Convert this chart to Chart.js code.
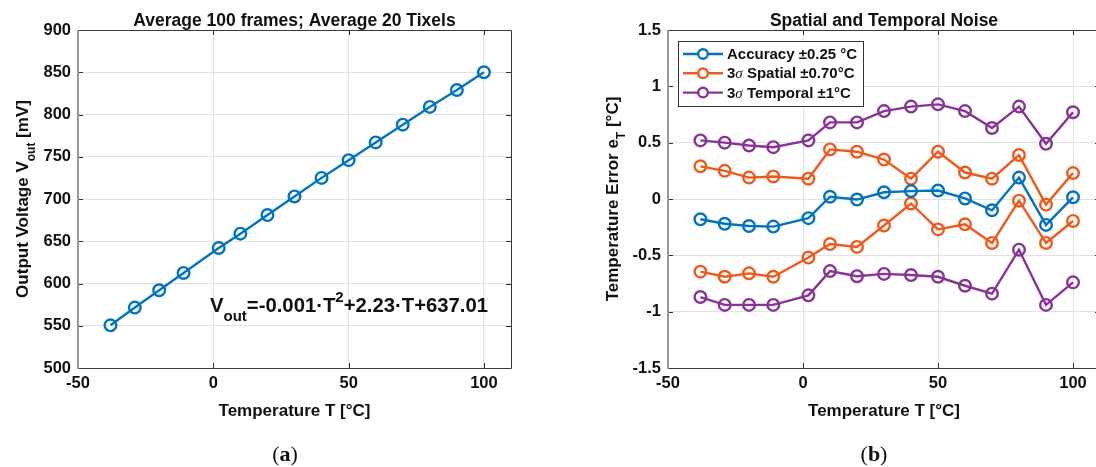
<!DOCTYPE html>
<html>
<head>
<meta charset="utf-8">
<script src="https://cdn.jsdelivr.net/npm/chart.js@4.4.1/dist/chart.umd.min.js"></script>
<style>
  html, body { margin: 0; padding: 0; background: #fff; overflow: hidden; width: 1096px; height: 467px; }
  .panel { position: absolute; top: 0; width: 560px; height: 467px; }
  #panelA { left: 0; }
  #panelB { left: 590px; }
</style>
</head>
<body>
<div class="panel" id="panelA"><canvas id="chartA" width="560" height="467"></canvas></div>
<div class="panel" id="panelB"><canvas id="chartB" width="560" height="467"></canvas></div>
<script>
// Datos
const temperaturas = [-38, -29, -20, -11, 2, 10, 20, 30, 40, 50, 60, 70, 80, 90, 100];
const voltaje = [550.5, 571.5, 592, 612.5, 642, 659, 681, 703, 725, 746, 767, 788, 809, 829, 850];

const precision = [-0.18, -0.22, -0.24, -0.245, -0.17, 0.02, -0.005, 0.06, 0.07, 0.075, 0.005, -0.1, 0.19, -0.23, 0.015];
const espacialSup = [0.29, 0.25, 0.19, 0.2, 0.18, 0.44, 0.42, 0.35, 0.18, 0.42, 0.235, 0.18, 0.39, -0.05, 0.23];
const espacialInf = [-0.645, -0.69, -0.66, -0.69, -0.52, -0.4, -0.425, -0.235, -0.04, -0.27, -0.225, -0.39, -0.015, -0.39, -0.195];
const temporalSup = [0.52, 0.5, 0.475, 0.46, 0.52, 0.68, 0.68, 0.78, 0.82, 0.84, 0.78, 0.63, 0.82, 0.49, 0.77];
const temporalInf = [-0.87, -0.94, -0.94, -0.94, -0.855, -0.64, -0.685, -0.665, -0.675, -0.69, -0.77, -0.84, -0.45, -0.94, -0.74];

// Ticks
const ticksX = [-50, 0, 50, 100];
const ticksVoltaje = [500, 550, 600, 650, 700, 750, 800, 850, 900];
const ticksError = [-1.5, -1, -0.5, 0, 0.5, 1, 1.5];

const AZUL = "#0074C0";
const NARANJA = "#EE5A1C";
const MORADO = "#883496";
const FUENTE = "'Liberation Sans', Arial, sans-serif";
const TINTA = "#111";

// Texto con subindices / superindices
function fuenteDe(p, tam) {
  if (p[1] === "sub" || p[1] === "sup") return `bold ${Math.round(tam * 0.72)}px ${FUENTE}`;
  if (p[1] === "sigma") return `italic ${tam}px 'Liberation Serif', serif`;
  return `bold ${tam}px ${FUENTE}`;
}

function textoRico(ctx, partes, x, y, tam, alinear) {
  let ancho = 0;
  partes.forEach((p) => {
    ctx.font = fuenteDe(p, tam);
    ancho += ctx.measureText(p[0]).width;
  });
  let cx = alinear === "center" ? x - ancho / 2 : x;
  partes.forEach((p) => {
    ctx.font = fuenteDe(p, tam);
    const dy = p[1] === "sub" ? tam * 0.42 : p[1] === "sup" ? -tam * 0.48 : 0;
    ctx.fillText(p[0], cx, y + dy);
    cx += ctx.measureText(p[0]).width;
  });
}

// Marco estilo MATLAB, ticks hacia dentro y textos
const marcoPlugin = {
  id: "marco",
  afterDraw(chart, args, opts) {
    const { ctx, chartArea: a } = chart;
    const x = chart.scales.x;
    const y = chart.scales.y;
    ctx.save();
    ctx.strokeStyle = "#333";
    ctx.lineWidth = 1;
    ctx.beginPath();
    x.ticks.forEach((t) => {
      const px = Math.round(x.getPixelForValue(t.value)) + 0.5;
      ctx.moveTo(px, a.bottom); ctx.lineTo(px, a.bottom - 5);
      ctx.moveTo(px, a.top); ctx.lineTo(px, a.top + 5);
    });
    y.ticks.forEach((t) => {
      const py = Math.round(y.getPixelForValue(t.value)) + 0.5;
      ctx.moveTo(a.left, py); ctx.lineTo(a.left + 5, py);
      ctx.moveTo(a.right, py); ctx.lineTo(a.right - 5, py);
    });
    ctx.stroke();

    ctx.strokeStyle = "#3a3a3a";
    ctx.beginPath();
    ctx.moveTo(a.left, a.top + 0.5); ctx.lineTo(a.right + 0.5, a.top + 0.5);
    ctx.lineTo(a.right + 0.5, a.bottom + 0.5); ctx.lineTo(a.left, a.bottom + 0.5);
    ctx.stroke();
    ctx.strokeStyle = "#9a9a9a";
    ctx.lineWidth = 2;
    ctx.beginPath();
    ctx.moveTo(a.left, a.top); ctx.lineTo(a.left, a.bottom + 1);
    ctx.stroke();

    const centro = (a.left + a.right) / 2;
    ctx.fillStyle = TINTA;
    ctx.textBaseline = "alphabetic";
    textoRico(ctx, [[opts.titulo, ""]], centro, 25.5, 17.5, "center");
    textoRico(ctx, [["Temperature T [°C]", ""]], centro, 416, 17, "center");

    ctx.save();
    ctx.translate(a.left - 50, (a.top + a.bottom) / 2);
    ctx.rotate(-Math.PI / 2);
    textoRico(ctx, opts.ejeY, 0, 0, 17, "center");
    ctx.restore();

    if (opts.ecuacion) {
      textoRico(ctx, opts.ecuacion, 210, 312, 20.3, "left");
    }

    const serif = "'Liberation Serif', serif";
    ctx.font = `22px ${serif}`;
    ctx.textAlign = "left";
    const p1 = ctx.measureText("(").width;
    ctx.font = `bold 22px ${serif}`;
    const p2 = ctx.measureText(opts.letra).width;
    const lx = opts.letraX - (2 * p1 + p2) / 2;
    ctx.font = `22px ${serif}`;
    ctx.fillText("(", lx, 461);
    ctx.font = `bold 22px ${serif}`;
    ctx.fillText(opts.letra, lx + p1, 461);
    ctx.font = `22px ${serif}`;
    ctx.fillText(")", lx + p1 + p2, 461);
    ctx.restore();
  },
};

// Leyenda dentro del grafico
const leyendaPlugin = {
  id: "leyendaMatlab",
  afterDraw(chart, args, opts) {
    if (!opts.mostrar) return;
    const ctx = chart.ctx;
    const vistos = [];
    chart.data.datasets.forEach((d) => {
      if (!vistos.find((v) => v.label === d.label)) vistos.push(d);
    });
    ctx.save();
    ctx.fillStyle = "#fff";
    ctx.fillRect(678 - 590, 41, 185, 65);
    ctx.strokeStyle = "#333";
    ctx.lineWidth = 1;
    ctx.strokeRect(678.5 - 590, 41.5, 185, 65);
    vistos.forEach((d, i) => {
      const yy = 54 + i * 19.3;
      ctx.strokeStyle = d.borderColor;
      ctx.lineWidth = 2.4;
      ctx.beginPath();
      ctx.moveTo(683 - 590, yy); ctx.lineTo(723 - 590, yy);
      ctx.stroke();
      ctx.beginPath();
      ctx.arc(703 - 590, yy, 4.8, 0, Math.PI * 2);
      ctx.fillStyle = "#fff";
      ctx.fill();
      ctx.stroke();
      ctx.fillStyle = TINTA;
      ctx.textBaseline = "middle";
      const partes = d.label.startsWith("3σ")
        ? [["3", ""], ["σ", "sigma"], [d.label.slice(2), ""]]
        : [[d.label, ""]];
      textoRico(ctx, partes, 727 - 590, yy + 1, 15, "left");
    });
    ctx.restore();
  },
};

function serie(label, valores, color) {
  return {
    label,
    data: temperaturas.map((t, i) => ({ x: t, y: valores[i] })),
    borderColor: color,
    borderWidth: 2.4,
    pointRadius: 5.8,
    pointBorderWidth: 2.4,
    pointBorderColor: color,
    pointBackgroundColor: "rgba(0,0,0,0)",
    tension: 0,
  };
}

function opciones(yMin, yMax, ticksY, extra, leyenda) {
  return {
    responsive: false,
    animation: false,
    layout: { padding: { top: 30, right: 50, left: 0, bottom: 0 } },
    plugins: {
      legend: { display: false },
      tooltip: { enabled: false },
      marco: extra,
      leyendaMatlab: { mostrar: leyenda },
    },
    scales: {
      x: {
        type: "linear",
        min: -50,
        max: 110,
        afterBuildTicks: (s) => { s.ticks = ticksX.map((v) => ({ value: v })); },
        afterFit: (s) => { s.height = 99; },
        grid: { color: "#e2e2e2", drawTicks: false },
        border: { display: false },
        ticks: { padding: 6, color: TINTA, font: { family: FUENTE, size: 16.5, weight: "bold" }, maxRotation: 0 },
      },
      y: {
        type: "linear",
        min: yMin,
        max: yMax,
        afterBuildTicks: (s) => { s.ticks = ticksY.map((v) => ({ value: v })); },
        afterFit: (s) => { s.width = 78; },
        grid: { color: "#e2e2e2", drawTicks: false },
        border: { display: false },
        ticks: { padding: 7, color: TINTA, font: { family: FUENTE, size: 16.5, weight: "bold" }, callback: (v) => String(v) },
      },
    },
  };
}

new Chart(document.getElementById("chartA").getContext("2d"), {
  type: "line",
  data: { datasets: [serie("Vout", voltaje, AZUL)] },
  options: (() => {
    const o = opciones(500, 900, ticksVoltaje, {
      titulo: "Average 100 frames; Average 20 Tixels",
      ejeY: [["Output Voltage V", ""], ["out", "sub"], [" [mV]", ""]],
      ecuacion: [["V", ""], ["out", "sub"], ["=-0.001·T", ""], ["2", "sup"], ["+2.23·T+637.01", ""]],
      letra: "a",
      letraX: 285,
    }, false);
    o.layout.padding.right = 49;
    return o;
  })(),
  plugins: [marcoPlugin, leyendaPlugin],
});

new Chart(document.getElementById("chartB").getContext("2d"), {
  type: "line",
  data: {
    datasets: [
      serie("Accuracy ±0.25 °C", precision, AZUL),
      serie("3σ Spatial ±0.70°C", espacialSup, NARANJA),
      serie("3σ Spatial ±0.70°C", espacialInf, NARANJA),
      serie("3σ Temporal ±1°C", temporalSup, MORADO),
      serie("3σ Temporal ±1°C", temporalInf, MORADO),
    ],
  },
  options: opciones(-1.5, 1.5, ticksError, {
    titulo: "Spatial and Temporal Noise",
    ejeY: [["Temperature Error e", ""], ["T", "sub"], [" [°C]", ""]],
    letra: "b",
    letraX: 874 - 590,
  }, true),
  plugins: [marcoPlugin, leyendaPlugin],
});
</script>
</body>
</html>
